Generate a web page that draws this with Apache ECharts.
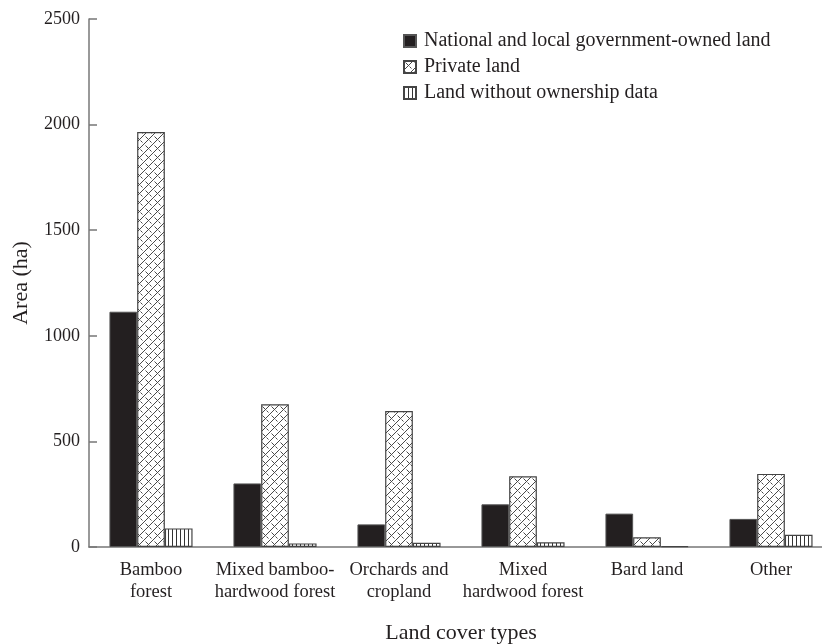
<!DOCTYPE html>
<html>
<head>
<meta charset="utf-8">
<script src="https://cdn.jsdelivr.net/npm/echarts@6/dist/echarts.min.js"></script>
<style>
    html, body { margin: 0; padding: 0; background: #fff; }
    #chart { width: 822px; height: 644px; }
</style>
</head>
<body>
<div id="chart"></div>
<script>
const categories = ['Bamboo\nforest', 'Mixed bamboo-\nhardwood forest', 'Orchards and\ncropland', 'Mixed\nhardwood forest', 'Bard land', 'Other'];
const publicLand = [1114, 301, 107, 202, 158, 133];
const privateLand = [1965, 676, 644, 335, 46, 346];
const unknownLand = [88, 17, 20, 22, 4, 58];
const yTicks = [0, 500, 1000, 1500, 2000, 2500];

const font = '"Liberation Serif", "DejaVu Serif", serif';
const ink = '#231f20';

// hatch for private land
function crossPattern() {
    const c = document.createElement('canvas');
    c.width = 9; c.height = 9;
    const ctx = c.getContext('2d');
    ctx.fillStyle = '#fff';
    ctx.fillRect(0, 0, 9, 9);
    ctx.strokeStyle = '#333';
    ctx.lineWidth = 0.9;
    ctx.beginPath();
    ctx.moveTo(-1, 10); ctx.lineTo(10, -1);
    ctx.moveTo(1.5, 1.5); ctx.lineTo(4, 4);
    ctx.moveTo(5.5, 5.5); ctx.lineTo(7.5, 7.5);
    ctx.stroke();
    return c;
}

// vertical lines for land without data
function stripePattern() {
    const c = document.createElement('canvas');
    c.width = 4; c.height = 4;
    const ctx = c.getContext('2d');
    ctx.fillStyle = '#fff';
    ctx.fillRect(0, 0, 4, 4);
    ctx.fillStyle = '#333';
    ctx.fillRect(0, 0, 1, 4);
    return c;
}

const chart = echarts.init(document.getElementById('chart'));
chart.setOption({
    animation: false,
    backgroundColor: '#fff',
    grid: { left: 89, top: 19, width: 744, height: 528, containLabel: false, outerBoundsMode: 'none' },
    legend: {
        orient: 'vertical',
        left: 398,
        top: 26,
        icon: 'rect',
        itemWidth: 12,
        itemHeight: 12,
        itemGap: 6,
        textStyle: { fontFamily: font, fontSize: 20, color: ink, padding: [0, 0, 0, 3] },
        data: ['National and local government-owned land', 'Private land', 'Land without ownership data']
    },
    xAxis: {
        type: 'category',
        data: categories,
        name: 'Land cover types',
        nameLocation: 'middle',
        nameGap: 75,
        nameTextStyle: { fontFamily: font, fontSize: 22, color: ink },
        axisLine: { lineStyle: { color: '#777', width: 1.5 } },
        axisTick: { length: 10, lineStyle: { color: '#777', width: 1.5 } },
        axisLabel: { fontFamily: font, fontSize: 18.5, color: ink, lineHeight: 22, margin: 12, interval: 0 }
    },
    yAxis: {
        type: 'value',
        min: 0,
        max: 2500,
        interval: 500,
        name: 'Area (ha)',
        nameLocation: 'middle',
        nameGap: 57,
        nameTextStyle: { fontFamily: font, fontSize: 22, color: ink },
        axisLine: { show: true, lineStyle: { color: '#777', width: 1.5 } },
        axisTick: { show: true, inside: true, length: 8, lineStyle: { color: '#777', width: 1.5 } },
        axisLabel: {
            fontFamily: font, fontSize: 18, color: ink, margin: 9,
            formatter: function (v) { return yTicks.indexOf(v) >= 0 ? String(v) : ''; }
        },
        splitLine: { show: false }
    },
    series: [
        {
            name: 'National and local government-owned land',
            type: 'bar',
            barWidth: 27.7,
            barGap: '0%',
            data: publicLand,
            itemStyle: { color: ink, borderColor: '#555', borderWidth: 1 }
        },
        {
            name: 'Private land',
            type: 'bar',
            barWidth: 27.7,
            barGap: '0%',
            data: privateLand,
            itemStyle: { color: { image: crossPattern(), repeat: 'repeat' }, borderColor: '#444', borderWidth: 1.2 }
        },
        {
            name: 'Land without ownership data',
            type: 'bar',
            barWidth: 27.7,
            barGap: '0%',
            data: unknownLand,
            itemStyle: { color: { image: stripePattern(), repeat: 'repeat' }, borderColor: '#444', borderWidth: 1.2 }
        }
    ]
});
</script>
</body>
</html>
